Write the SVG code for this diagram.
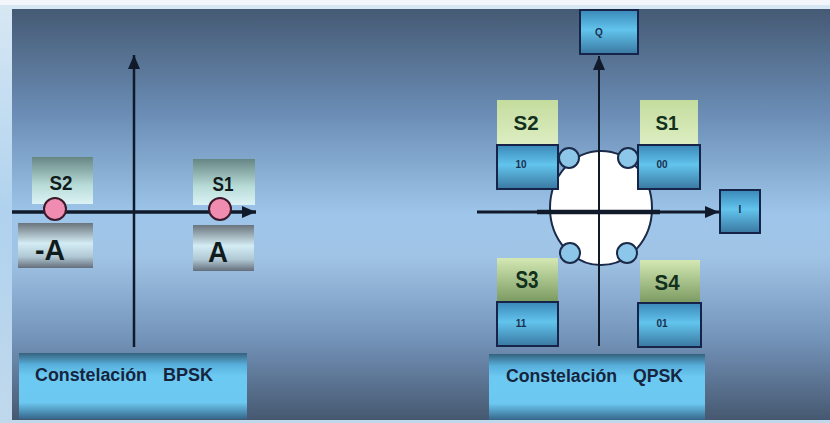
<svg xmlns="http://www.w3.org/2000/svg" width="830" height="423" viewBox="0 0 830 423">
  <defs>
    <linearGradient id="bg" x1="0" y1="0" x2="0" y2="1">
      <stop offset="0" stop-color="#455a74"/>
      <stop offset="0.25" stop-color="#6a8cb4"/>
      <stop offset="0.5" stop-color="#9ec6ea"/>
      <stop offset="0.6" stop-color="#a0c4e6"/>
      <stop offset="0.8" stop-color="#7494ba"/>
      <stop offset="1" stop-color="#465870"/>
    </linearGradient>
    <linearGradient id="frameLeft" x1="0" y1="0" x2="0" y2="1">
      <stop offset="0" stop-color="#d8e8f4"/>
      <stop offset="0.5" stop-color="#b0d2ee"/>
      <stop offset="1" stop-color="#c0d8ec"/>
    </linearGradient>
    <linearGradient id="blueBox" x1="0" y1="0" x2="0" y2="1">
      <stop offset="0" stop-color="#3a88b8"/>
      <stop offset="0.45" stop-color="#62c4ec"/>
      <stop offset="1" stop-color="#3a78a2"/>
    </linearGradient>
    <linearGradient id="caption" x1="0" y1="0" x2="0" y2="1">
      <stop offset="0" stop-color="#35627e"/>
      <stop offset="0.18" stop-color="#58b0dc"/>
      <stop offset="0.35" stop-color="#6ccaf2"/>
      <stop offset="0.75" stop-color="#6cc8f0"/>
      <stop offset="1" stop-color="#36668a"/>
    </linearGradient>
    <linearGradient id="greenUp" x1="0" y1="0" x2="0" y2="1">
      <stop offset="0" stop-color="#c4dc9e"/>
      <stop offset="1" stop-color="#ddeec2"/>
    </linearGradient>
    <linearGradient id="greenDown" x1="0" y1="0" x2="0" y2="1">
      <stop offset="0" stop-color="#d4e8b4"/>
      <stop offset="1" stop-color="#7a9a60"/>
    </linearGradient>
    <linearGradient id="tealLabel" x1="0" y1="0" x2="0" y2="1">
      <stop offset="0" stop-color="#668684"/>
      <stop offset="0.6" stop-color="#b8dcd8"/>
      <stop offset="1" stop-color="#dcf2f4"/>
    </linearGradient>
    <linearGradient id="grayLabel" x1="0" y1="0" x2="0" y2="1">
      <stop offset="0" stop-color="#6a747c"/>
      <stop offset="0.45" stop-color="#d4ecf4"/>
      <stop offset="0.75" stop-color="#b0c8d4"/>
      <stop offset="1" stop-color="#646e7a"/>
    </linearGradient>
    <marker id="arrow" viewBox="0 0 14 12" refX="14" refY="6" markerWidth="14" markerHeight="12" orient="auto" markerUnits="userSpaceOnUse">
      <path d="M0,0 L14,6 L0,12 z" fill="#111a2a"/>
    </marker>
    <style>
      .axis { stroke: #111a2a; fill: none; }
      .box { fill: url(#blueBox); stroke: #16244a; stroke-width: 2; }
      .cap { fill: url(#caption); }
      .lbl { font-family: "Liberation Sans", Arial, sans-serif; font-weight: bold; fill: #101c1c; text-anchor: middle; }
      .glbl { font-family: "Liberation Sans", Arial, sans-serif; font-weight: bold; fill: #12301c; text-anchor: middle; }
      .small { font-family: "Liberation Sans", Arial, sans-serif; font-weight: bold; font-size: 10px; fill: #1a3050; text-anchor: middle; }
      .captxt { font-family: "Liberation Sans", Arial, sans-serif; font-weight: bold; font-size: 18px; fill: #16243e; }
      .pink { fill: #f08cb0; stroke: #3a1a2a; stroke-width: 2; }
      .dot { fill: #8cc6e8; stroke: #1a2a48; stroke-width: 2; }
    </style>
  </defs>

  <!-- frame and background panel -->
  <rect x="0" y="0" width="830" height="423" fill="url(#frameLeft)"/>
  <rect x="0" y="0" width="830" height="5" fill="#f2f6fa"/>
  <rect x="12" y="9" width="818" height="411" fill="url(#bg)"/>

  <!-- BPSK constellation -->
  <g id="bpsk-caption">
    <rect class="cap" x="19" y="353" width="228" height="66"/>
    <text class="captxt" x="35" y="381" textLength="112" lengthAdjust="spacingAndGlyphs">Constelación</text>
    <text class="captxt" x="163" y="381" textLength="50" lengthAdjust="spacingAndGlyphs">BPSK</text>
  </g>
  <g id="bpsk-s2-label">
    <rect x="32" y="157" width="61" height="47" fill="url(#tealLabel)"/>
    <text class="lbl" x="61" y="190" font-size="21" textLength="23" lengthAdjust="spacingAndGlyphs">S2</text>
  </g>
  <g id="bpsk-s1-label">
    <rect x="193" y="159" width="62" height="46" fill="url(#tealLabel)"/>
    <text class="lbl" x="223" y="191" font-size="21" textLength="21" lengthAdjust="spacingAndGlyphs">S1</text>
  </g>
  <g id="bpsk-minus-a">
    <rect x="18" y="223" width="75" height="45" fill="url(#grayLabel)"/>
    <text class="lbl" x="50" y="260" font-size="30" textLength="30" lengthAdjust="spacingAndGlyphs">-A</text>
  </g>
  <g id="bpsk-a">
    <rect x="193" y="225" width="61" height="46" fill="url(#grayLabel)"/>
    <text class="lbl" x="218" y="262" font-size="30" textLength="20" lengthAdjust="spacingAndGlyphs">A</text>
  </g>

  <g id="bpsk-axes">
    <line class="axis" x1="134" y1="347" x2="134" y2="55" stroke-width="2.5" marker-end="url(#arrow)"/>
    <line class="axis" x1="12" y1="212" x2="256" y2="212" stroke-width="3.5" marker-end="url(#arrow)"/>
  </g>
  <g id="bpsk-s2">
    <circle class="pink" cx="55" cy="209" r="11"/>
  </g>
  <g id="bpsk-s1">
    <circle class="pink" cx="220" cy="209" r="11"/>
  </g>

  <!-- QPSK constellation -->
  <g id="qpsk-caption">
    <rect class="cap" x="489" y="354" width="216" height="66"/>
    <text class="captxt" x="506" y="382" textLength="111" lengthAdjust="spacingAndGlyphs">Constelación</text>
    <text class="captxt" x="633" y="382" textLength="50" lengthAdjust="spacingAndGlyphs">QPSK</text>
  </g>
  <g id="qpsk-q">
    <rect class="box" x="580" y="10" width="58" height="44"/>
    <text class="small" x="599" y="36" font-size="12">Q</text>
  </g>
  <g id="qpsk-i">
    <rect class="box" x="720" y="190" width="40" height="43"/>
    <text class="small" x="740" y="213">I</text>
  </g>

  <g id="qpsk-circle">
    <ellipse cx="601" cy="208" rx="51" ry="57" fill="#ffffff" stroke="#1a2a48" stroke-width="2"/>
  </g>

  <g id="qpsk-axes">
    <line class="axis" x1="599" y1="346" x2="599" y2="56" stroke-width="2" marker-end="url(#arrow)"/>
    <line class="axis" x1="477" y1="212" x2="719" y2="212" stroke-width="3" marker-end="url(#arrow)"/>
    <line class="axis" x1="537" y1="212" x2="660" y2="212" stroke-width="4.5"/>
  </g>

  <g id="qpsk-s2">
    <rect x="497" y="100" width="61" height="45" fill="url(#greenUp)"/>
    <text class="glbl" x="526" y="130" font-size="21" textLength="25" lengthAdjust="spacingAndGlyphs">S2</text>
    <rect class="box" x="497" y="145" width="61" height="44"/>
    <text class="small" x="521" y="168">10</text>
    <circle class="dot" cx="569" cy="158" r="10"/>
  </g>
  <g id="qpsk-s1">
    <rect x="640" y="100" width="58" height="45" fill="url(#greenUp)"/>
    <text class="glbl" x="667" y="130" font-size="21" textLength="23" lengthAdjust="spacingAndGlyphs">S1</text>
    <rect class="box" x="638" y="145" width="62" height="44"/>
    <text class="small" x="662" y="168">00</text>
    <circle class="dot" cx="628" cy="158" r="10"/>
  </g>
  <g id="qpsk-s3">
    <rect x="497" y="258" width="61" height="44" fill="url(#greenDown)"/>
    <text class="glbl" x="527" y="288" font-size="23" textLength="23" lengthAdjust="spacingAndGlyphs">S3</text>
    <rect class="box" x="497" y="302" width="61" height="44"/>
    <text class="small" x="521" y="327">11</text>
    <circle class="dot" cx="570" cy="253" r="10"/>
  </g>
  <g id="qpsk-s4">
    <rect x="640" y="260" width="60" height="43" fill="url(#greenDown)"/>
    <text class="glbl" x="667" y="290" font-size="22" textLength="25" lengthAdjust="spacingAndGlyphs">S4</text>
    <rect class="box" x="638" y="303" width="63" height="44"/>
    <text class="small" x="662" y="327">01</text>
    <circle class="dot" cx="627" cy="253" r="10"/>
  </g>
</svg>
